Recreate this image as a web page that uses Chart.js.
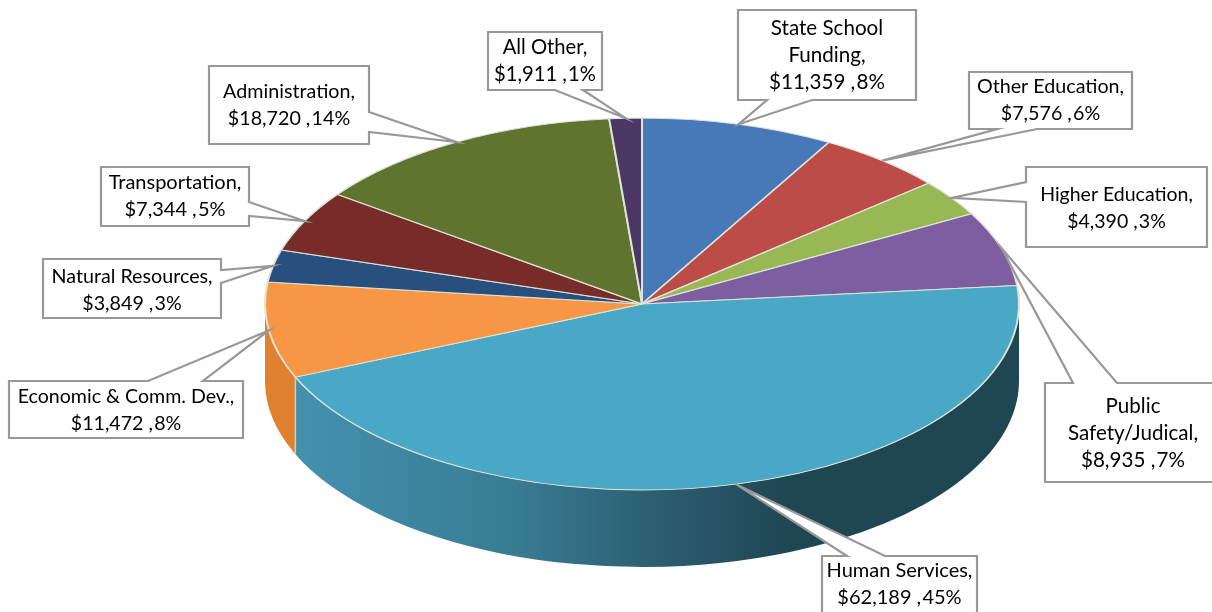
<!DOCTYPE html>
<html>
<head>
<meta charset="utf-8">
<title>Budget by category</title>
<script src="https://cdn.jsdelivr.net/npm/chart.js@4"></script>
<style>
html, body { margin: 0; padding: 0; background: #fff; overflow: hidden; }
#pie { display: block; }
</style>
</head>
<body>
<canvas id="pie" width="1212" height="612"></canvas>
<script>
const categories = ['State School Funding', 'Other Education', 'Higher Education', 'Public Safety/Judical',
    'Human Services', 'Economic & Comm. Dev.', 'Natural Resources', 'Transportation', 'Administration', 'All Other'];
const amounts = [11359, 7576, 4390, 8935, 62189, 11472, 3849, 7344, 18720, 1911];
const percents = [8, 6, 3, 7, 45, 8, 3, 5, 14, 1];
const topColors = ['#4778b8', '#bd4b48', '#97b853', '#7c5ea1', '#49a8c5', '#f79745', '#27507f', '#772c2a', '#5f752f', '#4b3763'];
const sideColors = ['#35588a', '#8d3835', '#708a3e', '#5c4678', '#2f7f99', '#e0812f', '#1c3b5f', '#58201f', '#465723', '#38294a'];

// how the label names wrap inside their boxes
const nameLines = [['State School', 'Funding,'], ['Other Education,'], ['Higher Education,'], ['Public', 'Safety/Judical,'],
    ['Human Services,'], ['Economic & Comm. Dev.,'], ['Natural Resources,'], ['Transportation,'], ['Administration,'], ['All Other,']];

// callout boxes: x, y, w, h, text centre y, font px, edge the pointer leaves from, and the pointer base on that edge
const callouts = [
    { x: 738, y: 10, w: 178, h: 90, ty: 55, font: 20.6, edge: 'bottom', a: 767, b: 812 },
    { x: 969, y: 72, w: 163, h: 57, ty: 100, font: 19.7, edge: 'bottom', a: 997, b: 1037 },
    { x: 1026, y: 167, w: 181, h: 80, ty: 208, font: 19.5, edge: 'left', a: 182, b: 202 },
    { x: 1045, y: 383, w: 176, h: 99, ty: 433, font: 20.6, edge: 'top', a: 1073, b: 1117 },
    { x: 822, y: 556, w: 155, h: 70, ty: 584, font: 20, edge: 'top', a: 847, b: 885 },
    { x: 9, y: 381, w: 234, h: 57, ty: 410, font: 19.6, edge: 'top', a: 148, b: 203 },
    { x: 43, y: 259, w: 178, h: 59, ty: 290, font: 19.7, edge: 'right', a: 270, b: 283 },
    { x: 101, y: 167, w: 148, h: 59, ty: 196, font: 20, edge: 'right', a: 202, b: 216 },
    { x: 209, y: 66, w: 160, h: 78, ty: 105, font: 19.7, edge: 'right', a: 112, b: 132 },
    { x: 488, y: 32, w: 114, h: 58, ty: 61, font: 20.2, edge: 'bottom', a: 555, b: 583 }
];

const squash = 186 / 377;
const depth = 77;
const labelFont = 'Lato, "Open Sans", sans-serif';

function sideFill(ctx, i) {
    if (i !== 4) return sideColors[i];
    const g = ctx.createLinearGradient(295, 0, 790, 0);
    g.addColorStop(0, '#4391ae');
    g.addColorStop(0.45, '#387b93');
    g.addColorStop(0.75, '#2b5c6e');
    g.addColorStop(1, '#1f4653');
    return g;
}

// extruded rim under the pie, taken from the arcs the controller laid out
function drawWall(chart) {
    const ctx = chart.ctx;
    const arcs = chart.getDatasetMeta(0).data;
    arcs.forEach((arc, i) => {
        const a1 = Math.max(arc.startAngle, 0);
        const a2 = Math.min(arc.endAngle, Math.PI);
        if (a2 <= a1) return;
        const rx = arc.outerRadius, ry = rx * squash;
        ctx.beginPath();
        ctx.ellipse(arc.x, arc.y, rx, ry, 0, a1, a2);
        ctx.ellipse(arc.x, arc.y + depth, rx, ry, 0, a2, a1, true);
        ctx.closePath();
        ctx.fillStyle = sideFill(ctx, i);
        ctx.fill();
        if (a1 > 0) {
            const sx = arc.x + rx * Math.cos(a1), sy = arc.y + ry * Math.sin(a1);
            ctx.beginPath();
            ctx.moveTo(sx, sy);
            ctx.lineTo(sx, sy + depth);
            ctx.strokeStyle = '#d5cdb8';
            ctx.lineWidth = 1.5;
            ctx.stroke();
        }
    });
}

function traceCallout(ctx, c, tip) {
    const r = c.x + c.w, b = c.y + c.h;
    ctx.beginPath();
    ctx.moveTo(c.x, c.y);
    if (c.edge === 'top') { ctx.lineTo(c.a, c.y); ctx.lineTo(tip.x, tip.y); ctx.lineTo(c.b, c.y); }
    ctx.lineTo(r, c.y);
    if (c.edge === 'right') { ctx.lineTo(r, c.a); ctx.lineTo(tip.x, tip.y); ctx.lineTo(r, c.b); }
    ctx.lineTo(r, b);
    if (c.edge === 'bottom') { ctx.lineTo(c.b, b); ctx.lineTo(tip.x, tip.y); ctx.lineTo(c.a, b); }
    ctx.lineTo(c.x, b);
    if (c.edge === 'left') { ctx.lineTo(c.x, c.b); ctx.lineTo(tip.x, tip.y); ctx.lineTo(c.x, c.a); }
    ctx.closePath();
}

function drawCallouts(chart) {
    const ctx = chart.ctx;
    const arcs = chart.getDatasetMeta(0).data;
    ctx.save();
    arcs.forEach((arc, i) => {
        const c = callouts[i];
        const mid = (arc.startAngle + arc.endAngle) / 2;
        const tip = {
            x: arc.x + arc.outerRadius * Math.cos(mid),
            y: arc.y + arc.outerRadius * squash * Math.sin(mid)
        };
        traceCallout(ctx, c, tip);
        ctx.fillStyle = '#fff';
        ctx.fill();
        ctx.strokeStyle = '#989898';
        ctx.lineWidth = 2.2;
        ctx.lineJoin = 'miter';
        ctx.stroke();

        const lines = nameLines[i].concat('$' + amounts[i].toLocaleString('en-US') + ' ,\u200a' + percents[i] + '%');
        ctx.fillStyle = '#000';
        ctx.font = c.font + 'px ' + labelFont;
        ctx.textAlign = 'center';
        ctx.textBaseline = 'middle';
        lines.forEach((line, k) => {
            ctx.fillText(line, c.x + c.w / 2, c.ty + (k - (lines.length - 1) / 2) * 27);
        });
    });
    ctx.restore();
}

// flattens the round pie into an ellipse and adds the rim and callouts
const tiltPlugin = {
    id: 'tilt',
    beforeDatasetsDraw(chart) {
        const ctx = chart.ctx;
        const arc = chart.getDatasetMeta(0).data[0];
        drawWall(chart);
        ctx.save();
        ctx.translate(0, arc.y);
        ctx.scale(1, squash);
        ctx.translate(0, -arc.y);
    },
    afterDatasetsDraw(chart) {
        chart.ctx.restore();
        drawCallouts(chart);
    }
};

new Chart(document.getElementById('pie').getContext('2d'), {
    type: 'pie',
    data: {
        labels: categories,
        datasets: [{
            data: amounts,
            backgroundColor: topColors,
            borderColor: '#dfe3d8',
            borderWidth: 2,
            clip: false
        }]
    },
    options: {
        responsive: false,
        animation: false,
        events: [],
        radius: 377,
        layout: { padding: { left: 72, bottom: 4 } },
        plugins: { legend: { display: false }, tooltip: { enabled: false } }
    },
    plugins: [tiltPlugin]
});
</script>
</body>
</html>
